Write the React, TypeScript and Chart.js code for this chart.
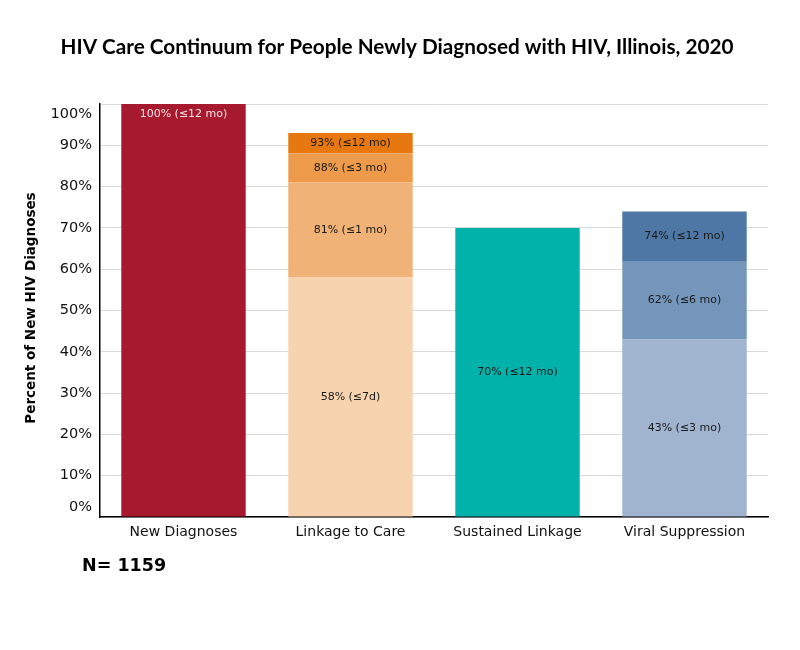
import React, { useEffect, useRef } from "react";
import { Chart, registerables } from "chart.js";

Chart.register(...registerables);

const categories = ["New Diagnoses", "Linkage to Care", "Sustained Linkage", "Viral Suppression"];
const tier1 = [100, 58, 70, 43];
const tier2 = [null, 81, null, 62];
const tier3 = [null, 88, null, 74];
const tier4 = [null, 93, null, null];
const tier1Periods = ["≤12 mo", "≤7d", "≤12 mo", "≤3 mo"];
const tier2Periods = [null, "≤1 mo", null, "≤6 mo"];
const tier3Periods = [null, "≤3 mo", null, "≤12 mo"];
const tier4Periods = [null, "≤12 mo", null, null];
const tier1Colors = ["#A6192E", "#F7D4AF", "#00B2A9", "#A0B4CF"];
const tier2Colors = ["#F0B276", "#F0B276", "#F0B276", "#7596BB"];
const tier3Colors = ["#ED9B4B", "#ED9B4B", "#ED9B4B", "#4E77A5"];
const tier4Colors = ["#E6780F", "#E6780F", "#E6780F", "#E6780F"];
const yTicks = [0, 10, 20, 30, 40, 50, 60, 70, 80, 90, 100];
const titleText = "HIV Care Continuum for People Newly Diagnosed with HIV, Illinois, 2020";
const yTitle = "Percent of New HIV Diagnoses";
const nText = "N= 1159";

const tiers = [tier1, tier2, tier3, tier4];
const tierPeriods = [tier1Periods, tier2Periods, tier3Periods, tier4Periods];
const tierColors = [tier1Colors, tier2Colors, tier3Colors, tier4Colors];

function floating(idx: number) {
  const cur = tiers[idx];
  return cur.map((v, i) => {
    if (v == null) return null;
    let prev = 0;
    for (let k = idx - 1; k >= 0; k--) {
      const p = tiers[k][i];
      if (p != null) { prev = p; break; }
    }
    return [prev, v];
  });
}

const textPlugin = {
  id: "textPlugin",
  afterDatasetsDraw(chart: any) {
    const ctx = chart.ctx;
    ctx.save();
    // bar labels
    ctx.textAlign = "center";
    ctx.textBaseline = "middle";
    ctx.font = "11px 'DejaVu Sans'";
    chart.data.datasets.forEach((ds: any, di: number) => {
      const meta = chart.getDatasetMeta(di);
      meta.data.forEach((el: any, i: number) => {
        const v = tiers[di][i];
        if (v == null) return;
        const label = `${v}% (${tierPeriods[di][i]})`;
        let y = (el.y + el.base) / 2;
        let color = "#1a1a1a";
        if (i === 0) { y = el.y + 10; color = "#F4E4E6"; }
        ctx.fillStyle = color;
        ctx.fillText(label, el.x, y);
      });
    });
    // y tick labels
    const ys = chart.scales.y;
    ctx.textAlign = "right";
    ctx.font = "14.5px 'DejaVu Sans'";
    ctx.fillStyle = "#111";
    yTicks.forEach((t) => {
      let y = ys.getPixelForValue(t);
      if (t === 100) y += 10;
      if (t === 0) y -= 10;
      ctx.fillText(`${t}%`, 92, y);
    });
    // title, fitted to the reference width
    ctx.textAlign = "center";
    ctx.fillStyle = "#000";
    ctx.font = "bold 17px Lato";
    const w = ctx.measureText(titleText).width;
    const size = Math.min(22, 17 * (673 / w));
    ctx.font = `bold ${size.toFixed(2)}px Lato`;
    ctx.fillText(titleText, 397, 47);
    // y title
    ctx.save();
    ctx.translate(31, 308);
    ctx.rotate(-Math.PI / 2);
    ctx.font = "bold 13.5px 'DejaVu Sans'";
    ctx.fillText(yTitle, 0, 0);
    ctx.restore();
    // N
    ctx.textAlign = "left";
    ctx.font = "bold 17.5px 'DejaVu Sans'";
    ctx.fillText(nText, 82, 566);
    ctx.restore();
  },
};

export default function App() {
  const ref = useRef<HTMLCanvasElement>(null);
  useEffect(() => {
    if (!ref.current) return;
    const chart = new Chart(ref.current, {
      type: "bar",
      data: {
        labels: categories,
        datasets: tiers.map((_, idx) => ({
          data: floating(idx) as any,
          backgroundColor: tierColors[idx],
          borderWidth: 0,
          barPercentage: 0.745,
          categoryPercentage: 1,
        })),
      },
      options: {
        animation: false,
        responsive: false,
        layout: { padding: { top: 104, left: 0, right: 32, bottom: 0 } },
        plugins: { legend: { display: false }, tooltip: { enabled: false }, title: { display: false } },
        scales: {
          x: {
            stacked: true,
            grid: { display: false, drawTicks: false },
            border: { display: true, color: "#000", width: 1.5 },
            ticks: { color: "#111", font: { family: "'DejaVu Sans'", size: 14 }, padding: 7 },
            afterFit: (s: any) => { s.height = 133; },
          },
          y: {
            stacked: false,
            min: 0,
            max: 100,
            afterBuildTicks: (s: any) => { s.ticks = yTicks.map((v) => ({ value: v })); },
            grid: { color: "#D9D9D9", lineWidth: 1, drawTicks: false },
            border: { display: true, color: "#000", width: 1.5 },
            ticks: { display: false },
            afterFit: (s: any) => { s.width = 100; },
          },
        },
      },
      plugins: [textPlugin],
    });
    return () => chart.destroy();
  }, []);
  return (
    <div style={{ position: "fixed", left: 0, top: 0, width: 800, height: 650, background: "#fff" }}>
      <canvas ref={ref} width={800} height={650} />
    </div>
  );
}
